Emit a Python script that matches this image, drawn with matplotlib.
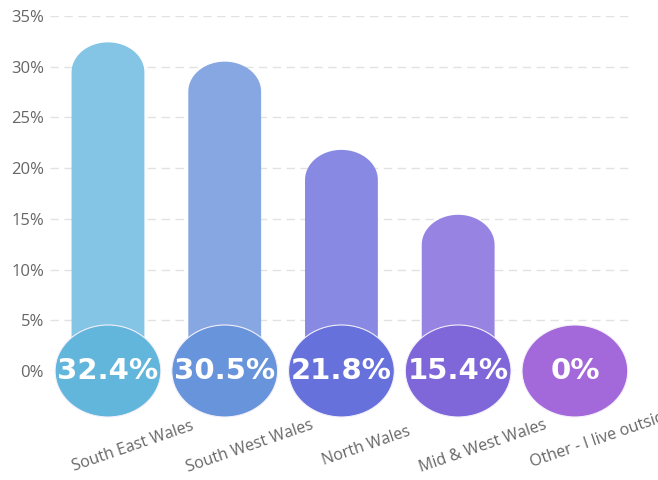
import matplotlib.pyplot as plt
from matplotlib.patches import Ellipse, PathPatch
from matplotlib.path import Path
import numpy as np

regions = ["South East Wales", "South West Wales", "North Wales",
           "Mid & West Wales", "Other - I live outside Wales"]
shares = [32.4, 30.5, 21.8, 15.4, 0.0]
value_labels = ["32.4%", "30.5%", "21.8%", "15.4%", "0%"]
y_ticks = [0, 5, 10, 15, 20, 25, 30, 35]

bar_colors = ["#84c4e4", "#86a7e2", "#8789e3", "#9784e2", "#b085e0"]
bubble_colors = ["#63b6db", "#6894db", "#6771db", "#7f66d9", "#a368da"]

fig = plt.figure(figsize=(6.58, 4.8), dpi=100)
ax = fig.add_axes([0.0754, 0.2271, 0.887, 0.7396])
ax.set_xlim(-0.5, 4.5)
ax.set_ylim(0, 35)

# dashed horizontal grid
for t in y_ticks:
    ax.axhline(t, color="#e2e2e2", lw=1, ls=(0, (6, 4)), zorder=0)

bar_w = 0.624
cap_h = 2.95


def rounded_bar(x, h):
    # column with a half-ellipse cap whose top reaches h
    rx = bar_w / 2
    base = max(h - cap_h, 0)
    t = np.linspace(0, np.pi, 40)
    cap_x = x + rx * np.cos(t)
    cap_y = base + cap_h * np.sin(t)
    verts = [(x + rx, 0), (x + rx, base)]
    verts += list(zip(cap_x, cap_y))
    verts += [(x - rx, 0), (x + rx, 0)]
    codes = [Path.MOVETO] + [Path.LINETO] * (len(verts) - 2) + [Path.CLOSEPOLY]
    return Path(verts, codes)


for i, v in enumerate(shares):
    if v > 0:
        ax.add_patch(PathPatch(rounded_bar(i, v), facecolor=bar_colors[i],
                               edgecolor="none", zorder=2))
    ax.add_patch(Ellipse((i, 0), 0.906, 9.07, facecolor=bubble_colors[i],
                         edgecolor="#f4f0fb", lw=0.8, zorder=3, clip_on=False))
    ax.text(i, 0, value_labels[i], ha="center", va="center", color="white",
            fontsize=21, fontweight="bold", family="DejaVu Sans", zorder=4)

# rotated category labels below the bubbles
for i, name in enumerate(regions):
    if i < len(regions) - 1:
        ax.annotate(name, xy=(i, 0), xycoords=("data", "axes fraction"),
                    xytext=(25, -75), textcoords="offset pixels",
                    ha="center", va="center", rotation=19,
                    rotation_mode="anchor", fontsize=11.5, color="#666666",
                    family="Open Sans", annotation_clip=False)
    else:
        ax.annotate(name, xy=(i, 0), xycoords=("data", "axes fraction"),
                    xytext=(-44, -92), textcoords="offset pixels",
                    ha="left", va="center", rotation=19,
                    rotation_mode="anchor", fontsize=11.5, color="#666666",
                    family="Open Sans", annotation_clip=False)

ax.set_yticks(y_ticks)
ax.set_yticklabels([f"{t}%" for t in y_ticks], family="Open Sans",
                   fontsize=12, color="#666666")
ax.tick_params(axis="y", length=0, pad=4)
ax.set_xticks([])
for s in ax.spines.values():
    s.set_visible(False)

fig.savefig("out.png", dpi=100)
